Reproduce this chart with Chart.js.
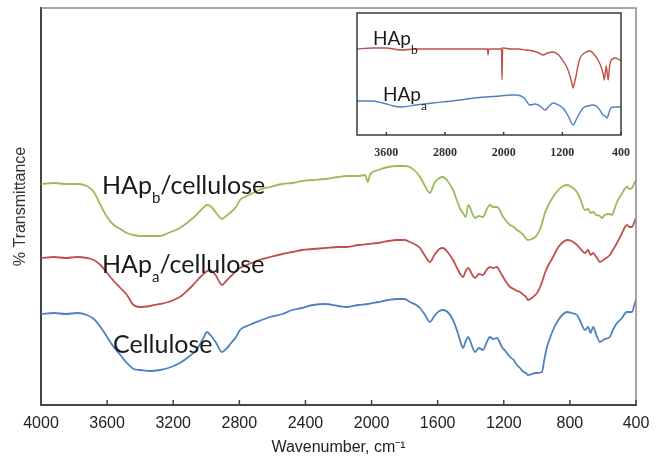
<!DOCTYPE html>
<html lang="en">
<head>
<meta charset="UTF-8">
<title>FTIR spectra - HAp / cellulose</title>
<script src="https://cdn.jsdelivr.net/npm/chart.js"></script>
<style>
  body { margin: 0; background: #fff; }
  #wrap { position: relative; width: 666px; height: 456px; }
  #insetChart { position: absolute; left: 345px; top: 10px; }
</style>
</head>
<body>
<div id="wrap">
  <canvas id="mainChart" width="666" height="456"></canvas>
  <canvas id="insetChart" width="290" height="160"></canvas>
</div>
<script>
// tick labels
const xTicks = [4000, 3600, 3200, 2800, 2400, 2000, 1600, 1200, 800, 400];
const insetTicks = [3600, 2800, 2000, 1200, 400];

// main spectra (wavenumber, transmittance a.u.)
const cellWn = [4000,3920,3850,3780,3722,3680,3640,3600,3560,3520,3480,3440,3400,3340,3280,3230,3160,3100,3060,3020,2996,2975,2940,2905,2880,2850,2820,2796,2740,2680,2615,2540,2480,2420,2354,2280,2200,2149,2080,2022,1960,1900,1846,1800,1768,1730,1707,1680,1647,1620,1590,1568,1540,1507,1480,1460,1447,1430,1415,1405,1390,1374,1350,1326,1305,1284,1265,1241,1225,1211,1190,1162,1140,1120,1102,1080,1065,1054,1030,1010,999,969,955,939,920,902,870,840,818,790,757,735,709,690,675,660,640,618,590,558,540,515,490,455,424,410,400];
const cellT = [91,92,91,92,90,86,78,68,58,50,42,36,35,34,35,37,42,49,55,66,73,70,62,53,56,62,68,75,80,84,88,91,95,97,100,101,99,98,100,101,103,105,106,106,103,100,97,91,83,89,94,95,93,85,73,62,57,64,68,65,58,53,57,55,62,68,66,67,63,58,54,48,45,40,37,33,32,30,31,32,32,33,45,58,67,75,85,91,93,92,90,83,75,78,72,78,70,63,66,68,75,82,86,93,93,100,105];

const hapaWn = [4000,3920,3850,3780,3722,3680,3640,3600,3560,3520,3480,3440,3400,3340,3280,3230,3160,3117,3080,3030,2978,2960,2940,2905,2880,2850,2820,2796,2740,2680,2615,2540,2480,2420,2354,2280,2200,2149,2080,2022,1960,1900,1846,1800,1768,1730,1707,1680,1647,1620,1590,1568,1540,1507,1480,1460,1447,1430,1415,1405,1390,1374,1350,1326,1305,1284,1265,1241,1225,1211,1190,1162,1140,1120,1102,1080,1065,1054,1030,1010,999,975,951,930,902,870,840,818,790,757,735,709,690,675,660,640,618,590,558,540,515,490,455,440,424,410,400];
const hapaT = [147,148,147,148,147,145,140,132,124,117,110,100,98,99,101,103,108,114,120,129,135,133,129,120,124,129,134,137,141,145,148,151,153,155,156,157,158,158,160,161,162,164,165,165,163,160,157,150,143,150,156,157,153,145,136,130,128,134,137,135,130,127,131,130,135,138,137,138,134,130,124,118,116,114,113,110,108,105,107,110,112,120,132,140,148,158,163,165,164,160,156,152,155,150,152,148,143,146,150,155,162,170,180,178,178,183,187];

const hapbWn = [4000,3920,3850,3780,3722,3680,3640,3600,3560,3520,3480,3440,3400,3340,3280,3230,3160,3117,3060,3020,2996,2975,2940,2905,2880,2850,2820,2796,2740,2680,2615,2540,2480,2420,2354,2280,2200,2149,2080,2040,2022,2010,1960,1900,1846,1800,1768,1730,1707,1680,1647,1620,1590,1568,1540,1507,1480,1460,1447,1430,1415,1405,1390,1374,1350,1326,1305,1284,1265,1241,1225,1211,1190,1162,1140,1120,1102,1080,1065,1054,1030,1010,999,975,951,930,902,870,840,818,790,757,735,709,690,675,660,640,618,606,590,560,546,530,515,490,455,440,424,410,400];
const hapbT = [221,222,221,221,219,213,200,188,180,176,172,170,169,169,169,172,177,182,190,197,200,199,192,186,189,193,198,205,210,215,218,221,222,224,225,226,228,229,229,230,223,230,235,238,239,239,238,233,228,220,212,222,227,228,224,215,203,195,192,188,200,198,191,187,189,188,195,200,198,198,195,190,185,180,178,175,173,170,166,165,166,168,170,178,192,200,208,215,219,220,218,213,205,195,196,192,193,190,189,187,190,191,190,196,203,210,218,216,217,222,225];

// inset spectra
const insetBWn = [4000,3800,3600,3400,3200,3000,2600,2250,2220,2213,2205,2200,2100,2040,2030,2022,2014,2005,1900,1800,1700,1600,1520,1463,1400,1326,1250,1190,1140,1100,1070,1054,1035,1010,985,958,900,822,760,713,670,640,630,615,600,588,575,560,540,481,440,400];
const insetBT = [86,87,87,85,86,86,86,86,86,80,86,86,86,86,87,55,87,87,86,86,85,84,82,80,82,83,80,74,68,60,52,47,52,60,70,77,82,84,80,75,68,60,55,62,69,62,55,66,74,77,76,74];
const insetAWn = [4000,3800,3650,3500,3413,3200,2963,2700,2500,2250,2050,1900,1820,1720,1640,1570,1504,1435,1380,1326,1250,1190,1120,1054,1000,917,850,781,720,680,645,615,590,565,540,480,400];
const insetAT = [34,34,32,29,28,30,32,34,36,38,39,40,40,37,30,31,29,25,29,32,30,27,19,10,17,27,29,30,28,24,20,19,17,22,27,28,28];

const mainLabels = [
  { wn: 3631, t: 211, parts: [['HAp', 0], ['b', 1], ['/cellulose', 0]] },
  { wn: 3631, t: 132, parts: [['HAp', 0], ['a', 1], ['/cellulose', 0]] },
  { wn: 3564, t: 52, parts: [['Cellulose', 0]] }
];
const insetLabels = [
  { wn: 3782, t: 90, parts: [['HAp', 0], ['b', 1]] },
  { wn: 3645, t: 34, parts: [['HAp', 0], ['a', 1]] }
];

const GREEN = '#9bbb59', RED = '#c0504d', BLUE = '#4f81bd';

function pts(wn, t) { return wn.map((w, i) => ({ x: w, y: t[i] })); }

function line(data, color, w) {
  return { data, borderColor: color, borderWidth: w, pointRadius: 0, fill: false, cubicInterpolationMode: 'monotone' };
}

function drawParts(ctx, x, y, parts, size, subSize, shift) {
  ctx.fillStyle = '#1a1a1a';
  ctx.textBaseline = 'alphabetic';
  ctx.textAlign = 'left';
  parts.forEach(([txt, sub]) => {
    ctx.font = (sub ? subSize : size) + 'px Lato';
    ctx.fillText(txt, x, sub ? y + shift : y);
    x += ctx.measureText(txt).width;
  });
}

const mainDeco = {
  id: 'mainDeco',
  afterDraw(chart) {
    const { ctx, chartArea: a, scales: { x, y } } = chart;
    ctx.save();
    ctx.strokeStyle = '#8a8a8a';
    ctx.lineWidth = 1.5;
    ctx.beginPath();
    ctx.moveTo(a.left, a.top);
    ctx.lineTo(a.right, a.top);
    ctx.lineTo(a.right, a.bottom);
    ctx.stroke();
    ctx.strokeStyle = '#444';
    x.ticks.forEach(t => {
      const px = x.getPixelForValue(t.value);
      ctx.beginPath();
      ctx.moveTo(px, a.bottom);
      ctx.lineTo(px, a.bottom - 5);
      ctx.stroke();
    });
    mainLabels.forEach(l => drawParts(ctx, x.getPixelForValue(l.wn), y.getPixelForValue(l.t), l.parts, 25, 15, 9));
    ctx.restore();
  }
};

const insetDeco = {
  id: 'insetDeco',
  beforeDraw(chart) {
    const { ctx, chartArea: a } = chart;
    ctx.save();
    ctx.fillStyle = '#fff';
    ctx.fillRect(a.left, a.top, a.right - a.left, a.bottom - a.top);
    ctx.restore();
  },
  afterDraw(chart) {
    const { ctx, chartArea: a, scales: { x, y } } = chart;
    ctx.save();
    ctx.strokeStyle = '#3a3a3a';
    ctx.lineWidth = 1.5;
    ctx.strokeRect(a.left, a.top, a.right - a.left, a.bottom - a.top);
    x.ticks.forEach(t => {
      const px = x.getPixelForValue(t.value);
      ctx.beginPath();
      ctx.moveTo(px, a.bottom);
      ctx.lineTo(px, a.bottom - 3);
      ctx.stroke();
    });
    insetLabels.forEach(l => drawParts(ctx, x.getPixelForValue(l.wn), y.getPixelForValue(l.t), l.parts, 19, 12, 9));
    ctx.restore();
  }
};

new Chart(document.getElementById('mainChart'), {
  type: 'line',
  data: {
    datasets: [
      line(pts(hapbWn, hapbT), GREEN, 1.8),
      line(pts(hapaWn, hapaT), RED, 1.8),
      line(pts(cellWn, cellT), BLUE, 1.8)
    ]
  },
  options: {
    responsive: false,
    animation: false,
    devicePixelRatio: 1,
    layout: { padding: { top: 8, right: 30, left: 0, bottom: 0 } },
    plugins: { legend: { display: false }, tooltip: { enabled: false } },
    scales: {
      x: {
        type: 'linear', reverse: true, min: 400, max: 4000,
        afterBuildTicks: s => { s.ticks = xTicks.map(v => ({ value: v })); },
        afterFit: s => { s.height = 51; s.paddingLeft = 0; s.paddingRight = 0; },
        ticks: { color: '#222', font: { family: 'Liberation Sans', size: 16 }, padding: 9, maxRotation: 0, autoSkip: false,
                 callback: v => String(v) },
        grid: { display: false, drawTicks: false },
        border: { display: true, color: '#444', width: 2 },
        title: { display: true, text: 'Wavenumber, cm\u207B\u00B9', color: '#222',
                 font: { family: 'Liberation Sans', size: 16, lineHeight: 1 }, padding: { top: 0, bottom: 0 } }
      },
      y: {
        min: 0, max: 397,
        afterFit: s => { s.width = 41; s.paddingTop = 0; s.paddingBottom = 0; },
        ticks: { display: false },
        grid: { display: false, drawTicks: false },
        border: { display: true, color: '#444', width: 2 },
        title: { display: true, text: '% Transmittance', color: '#333',
                 font: { family: 'Liberation Sans', size: 16, lineHeight: 1 }, padding: { top: 13, bottom: 0 } }
      }
    }
  },
  plugins: [mainDeco]
});

new Chart(document.getElementById('insetChart'), {
  type: 'line',
  data: {
    datasets: [
      line(pts(insetBWn, insetBT), RED, 1.4),
      line(pts(insetAWn, insetAT), BLUE, 1.4)
    ]
  },
  options: {
    responsive: false,
    animation: false,
    devicePixelRatio: 1,
    layout: { padding: { top: 3, right: 14, left: 0, bottom: 0 } },
    plugins: { legend: { display: false }, tooltip: { enabled: false } },
    scales: {
      x: {
        type: 'linear', reverse: true, min: 400, max: 4000,
        afterBuildTicks: s => { s.ticks = insetTicks.map(v => ({ value: v })); },
        afterFit: s => { s.height = 35; s.paddingLeft = 0; s.paddingRight = 0; },
        ticks: { color: '#333', font: { family: 'Liberation Serif', size: 12, weight: 'bold' }, padding: 11, maxRotation: 0, autoSkip: false,
                 callback: v => String(v) },
        grid: { display: false, drawTicks: false },
        border: { display: false }
      },
      y: {
        min: 0, max: 122,
        afterFit: s => { s.width = 12; s.paddingTop = 0; s.paddingBottom = 0; },
        ticks: { display: false },
        grid: { display: false, drawTicks: false },
        border: { display: false }
      }
    }
  },
  plugins: [insetDeco]
});
</script>
</body>
</html>
